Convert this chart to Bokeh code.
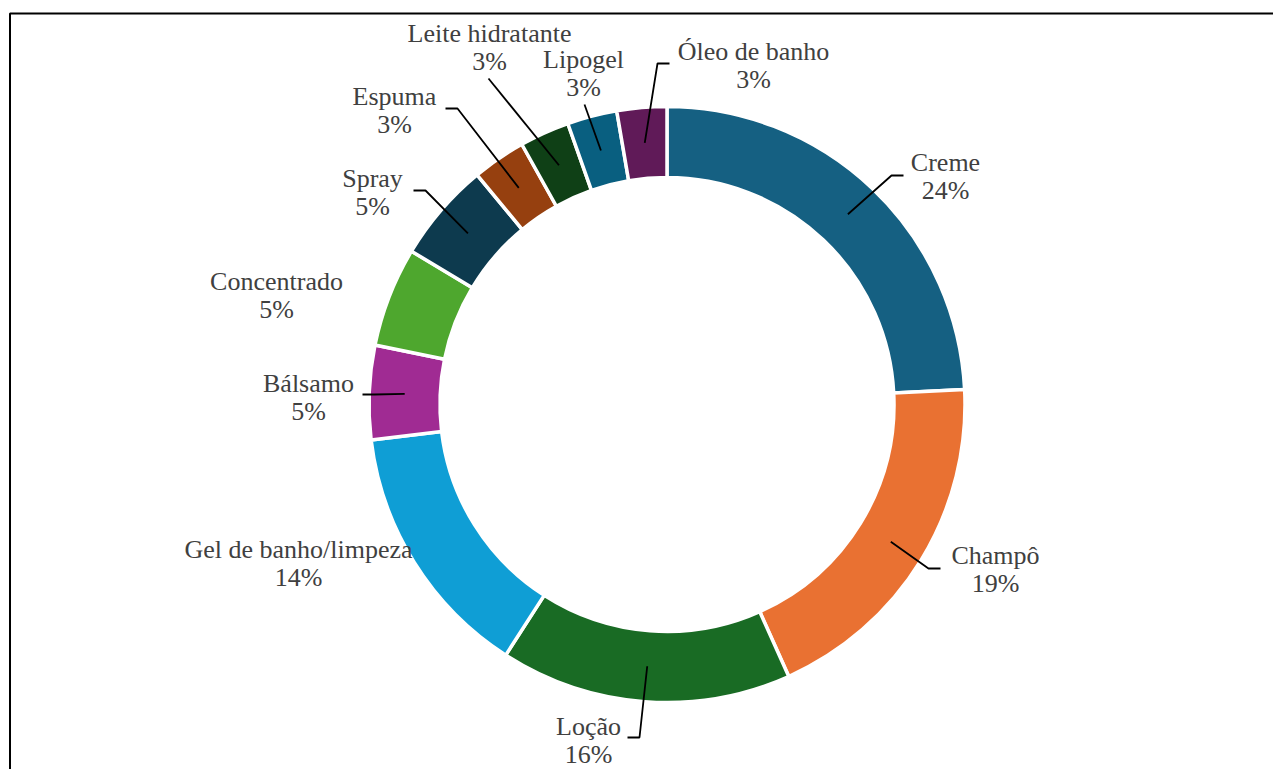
import math
from bokeh.plotting import figure
from bokeh.models import Range1d, ColumnDataSource
from bokeh.embed import file_html
from bokeh.resources import INLINE
from bokeh.core.properties import value

# ---------------- data ----------------
categories = ["Creme", "Champô", "Loção", "Gel de banho/limpeza", "Bálsamo",
              "Concentrado", "Spray", "Espuma", "Leite hidratante", "Lipogel",
              "Óleo de banho"]
shares = [24.2, 19.1, 15.8, 14.0, 5.1, 5.4, 5.4, 2.9, 2.7, 2.7, 2.7]
colors = ["#156082", "#E97132", "#196B24", "#0F9ED5", "#A02B93", "#4EA72E",
          "#0D3A4E", "#96400F", "#0F4016", "#095F80", "#601A58"]

# ---------------- layout (picture pixel coordinates) ----------------
W, H = 1273, 769
CX, CY = 666.5, 404.0
R_OUT, R_IN = 298.0, 227.0
FONT = "Liberation Serif"
FONT_SIZE = "26px"
TEXT_COLOR = "#404040"

# label block centre, leader end point, elbow direction
label_layout = {
    "Creme": ((945, 176), (903, 175), -1),
    "Champô": ((995, 569), (940, 568), -1),
    "Loção": ((588, 740), (627, 737), +1),
    "Gel de banho/limpeza": ((298, 563), None, 0),
    "Bálsamo": ((308, 397), (362, 394), +1),
    "Concentrado": ((276, 295), None, 0),
    "Spray": ((372, 192), (413, 190), +1),
    "Espuma": ((394, 110), (445, 108), +1),
    "Leite hidratante": ((489, 47), (488, 78), 0),
    "Lipogel": ((583, 73), (584, 104), 0),
    "Óleo de banho": ((753, 65), (669, 63), -1),
}


def Y(py):
    return -py


p = figure(width=W, height=H, output_backend="svg", toolbar_location=None,
           x_range=Range1d(0, W), y_range=Range1d(-H, 0),
           min_border=0, background_fill_color="white",
           border_fill_color="white")
p.axis.visible = False
p.grid.visible = False
p.outline_line_color = None

# frame
p.line(x=[9.5, 9.5, W + 5], y=[Y(H + 5), Y(13), Y(13)],
       line_color="black", line_width=2)

# wedges
total = sum(shares)
cum = [0.0]
for s in shares:
    cum.append(cum[-1] + s)
starts, ends, mids = [], [], []
for i in range(len(shares)):
    a0 = math.pi / 2 - 2 * math.pi * cum[i] / total
    a1 = math.pi / 2 - 2 * math.pi * cum[i + 1] / total
    starts.append(a1)
    ends.append(a0)
    mids.append((a0 + a1) / 2)

src = ColumnDataSource(dict(cat=categories, share=shares, color=colors,
                            start=starts, end=ends))
p.annular_wedge(x=CX, y=Y(CY), inner_radius=R_IN, outer_radius=R_OUT,
                start_angle="start", end_angle="end", direction="anticlock",
                fill_color="color", line_color="white", line_width=3.5,
                source=src)

# leaders and labels
r_mid = (R_IN + R_OUT) / 2
names_x, names_y, pct_x, pct_y, pct_t = [], [], [], [], []
for cat, s, m in zip(categories, shares, mids):
    (lx, ly), end, d = label_layout[cat]
    names_x.append(lx)
    names_y.append(Y(ly - 14))
    pct_x.append(lx)
    pct_y.append(Y(ly + 14))
    pct_t.append(f"{round(s)}%")
    if end is None:
        continue
    sx = CX + r_mid * math.cos(m)
    sy = CY - r_mid * math.sin(m)
    xs = [sx]
    ys = [sy]
    if d != 0:
        xs.append(end[0] + d * 12)
        ys.append(end[1])
    xs.append(end[0])
    ys.append(end[1])
    p.line(x=xs, y=[Y(v) for v in ys], line_color="black", line_width=1.8)

p.text(x=names_x, y=names_y, text=categories, text_font=value(FONT),
       text_font_size=FONT_SIZE, text_color=TEXT_COLOR, text_align="center",
       text_baseline="middle")
p.text(x=pct_x, y=pct_y, text=pct_t, text_font=value(FONT),
       text_font_size=FONT_SIZE, text_color=TEXT_COLOR, text_align="center",
       text_baseline="middle")

open("out.html", "w").write(file_html(p, INLINE))
